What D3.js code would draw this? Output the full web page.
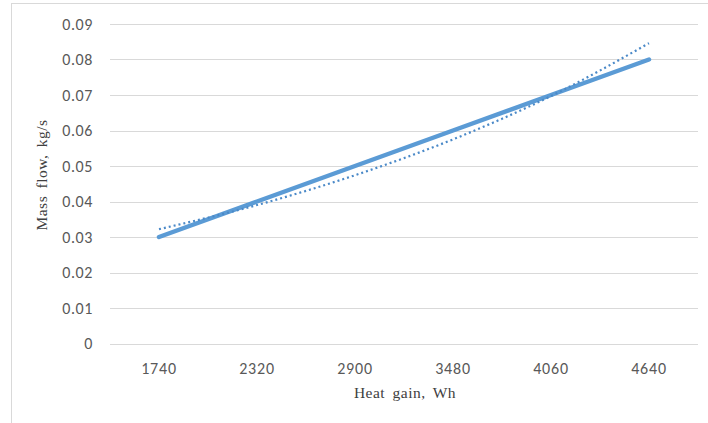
<!DOCTYPE html>
<html><head><meta charset="utf-8">
<script src="https://cdn.jsdelivr.net/npm/d3@7"></script>
<style>body{margin:0;background:#fff}svg{display:block}</style>
</head><body>
<svg id="c" width="708" height="423"></svg>
<script>
const categories = ["1740","2320","2900","3480","4060","4640"];
const massFlow = [0.03,0.04,0.05,0.06,0.07,0.08];
const trend = [0.0322,0.0390,0.0474,0.0575,0.0697,0.0846];
const yTicks = [0,0.01,0.02,0.03,0.04,0.05,0.06,0.07,0.08,0.09];
const yTickLabels = ["0","0.01","0.02","0.03","0.04","0.05","0.06","0.07","0.08","0.09"];

const svg = d3.select("#c");
svg.append("rect").attr("x",11.5).attr("y",3.5).attr("width",720).attr("height",440)
  .attr("fill","#fff").attr("stroke","#d9d9d9");

const x = d3.scaleBand().domain(categories).range([110,698]);
const y = d3.scaleLinear().domain([0,0.09]).range([343.5,24]);

const tickFont = "Carlito, Calibri, 'Liberation Sans', Arial, sans-serif";
const g = svg.append("g");
g.selectAll("line.grid").data(yTicks).join("line")
  .attr("x1",110).attr("x2",698).attr("y1",d=>Math.round(y(d))+0.5).attr("y2",d=>Math.round(y(d))+0.5)
  .attr("stroke","#d9d9d9").attr("stroke-width",1);

g.selectAll("text.yt").data(yTicks).join("text")
  .attr("x",93).attr("y",d=>y(d)).attr("dy","0.35em").attr("text-anchor","end")
  .attr("font-family",tickFont).attr("font-size",16).attr("letter-spacing",0.6).attr("fill","#595959")
  .text((d,i)=>yTickLabels[i]);

g.selectAll("text.xt").data(categories).join("text")
  .attr("x",d=>x(d)+x.bandwidth()/2).attr("y",368).attr("dy","0.35em").attr("text-anchor","middle")
  .attr("font-family",tickFont).attr("font-size",16).attr("letter-spacing",0.8).attr("fill","#595959")
  .text(d=>d);

const cx = (d,i)=>x(categories[i])+x.bandwidth()/2;
svg.append("path").datum(massFlow)
  .attr("d",d3.line().x(cx).y(d=>y(d)))
  .attr("fill","none").attr("stroke","#5b9bd5").attr("stroke-width",4.5).attr("stroke-linecap","round");

svg.append("path").datum(trend)
  .attr("d",d3.line().x(cx).y(d=>y(d)).curve(d3.curveMonotoneX))
  .attr("fill","none").attr("stroke","#4a89c8").attr("stroke-width",2.2).attr("stroke-dasharray","2,3");

const serif = "'Liberation Serif','Times New Roman',serif";
svg.append("text").attr("x",405).attr("y",393).attr("dy","0.35em").attr("text-anchor","middle")
  .attr("font-family",serif).attr("font-size",15.5).attr("letter-spacing",0.5).attr("word-spacing",3).attr("fill","#404040")
  .text("Heat gain, Wh");
svg.append("text").attr("transform","translate(42,175) rotate(-90)").attr("dy","0.35em").attr("text-anchor","middle")
  .attr("font-family",serif).attr("font-size",15.5).attr("letter-spacing",0.5).attr("word-spacing",3).attr("fill","#404040")
  .text("Mass flow, kg/s");
</script>
</body></html>
